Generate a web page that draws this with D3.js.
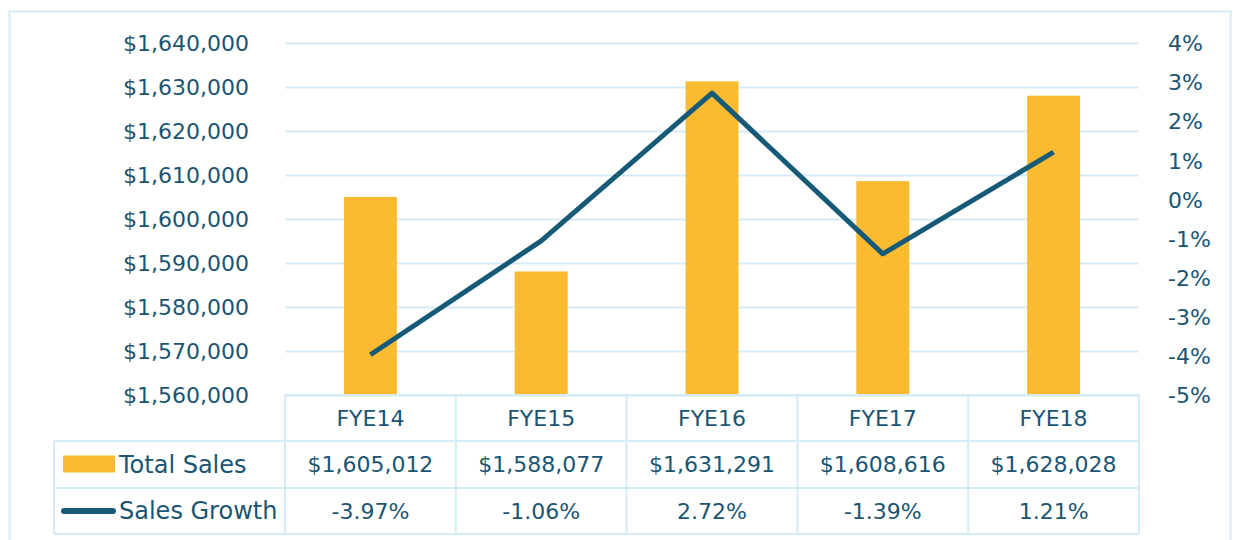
<!DOCTYPE html>
<html>
<head>
<meta charset="utf-8">
<script src="https://cdnjs.cloudflare.com/ajax/libs/d3/7.8.5/d3.min.js"></script>
<style>
  body { margin: 0; background: #fff; }
  text { font-family: "DejaVu Sans", sans-serif; fill: #1a5572; }
</style>
</head>
<body>
<svg id="chart" width="1233" height="540"></svg>
<script>
// data
const years = ["FYE14", "FYE15", "FYE16", "FYE17", "FYE18"];
const totalSales = [1605012, 1588077, 1631291, 1608616, 1628028];
const salesGrowth = [-3.97, -1.06, 2.72, -1.39, 1.21];
const leftTicks = [1560000, 1570000, 1580000, 1590000, 1600000, 1610000, 1620000, 1630000, 1640000];
const rightTicks = [-5, -4, -3, -2, -1, 0, 1, 2, 3, 4];

const svg = d3.select("#chart");
const gridColor = "#d3ecf7";
const barColor = "#fbbb31";
const lineColor = "#175a78";

// plot area
const plotL = 285, plotR = 1139, plotT = 43, plotB = 395;
const rowH = [46, 47, 46]; // header, sales, growth

// outer frame
svg.append("rect")
  .attr("x", 9.5).attr("y", 11.5)
  .attr("width", 1221).attr("height", 560)
  .attr("fill", "none")
  .attr("stroke", gridColor)
  .attr("stroke-width", 2);

const x = d3.scaleBand().domain(years).range([plotL, plotR]);
const y = d3.scaleLinear().domain([1560000, 1640000]).range([plotB, plotT]);
const y2 = d3.scaleLinear().domain([-5, 4]).range([plotB, plotT]);

/* left axis with gridlines */
const yAxis = d3.axisLeft(y)
  .tickValues(leftTicks)
  .tickFormat(d => "$" + d3.format(",")(d))
  .tickSize(-(plotR - plotL))
  .tickPadding(36);

const yAxisG = svg.append("g")
  .attr("transform", `translate(${plotL},0)`)
  .call(yAxis);
yAxisG.select(".domain").remove();
yAxisG.selectAll(".tick line").attr("stroke", gridColor).attr("stroke-width", 2);
yAxisG.selectAll(".tick text")
  .attr("font-size", 22)
  .attr("font-family", "DejaVu Sans")
  .attr("fill", "#1a5572")
  .attr("dy", "0.35em");

/* right axis */
const y2Axis = d3.axisRight(y2)
  .tickValues(rightTicks)
  .tickFormat(d => d + "%")
  .tickSize(0)
  .tickPadding(29);
const y2AxisG = svg.append("g")
  .attr("transform", `translate(${plotR},0)`)
  .call(y2Axis);
y2AxisG.select(".domain").remove();
y2AxisG.selectAll(".tick text")
  .attr("font-size", 22)
  .attr("font-family", "DejaVu Sans")
  .attr("fill", "#1a5572")
  .attr("dy", "0.35em");

// bars
const barW = x.bandwidth() * 0.31;
svg.append("g").selectAll("rect")
  .data(years)
  .enter().append("rect")
    .attr("x", d => x(d) + x.bandwidth() / 2 - barW / 2)
    .attr("y", (d, i) => y(totalSales[i]))
    .attr("width", barW)
    .attr("height", (d, i) => plotB - y(totalSales[i]))
    .attr("fill", barColor);

// growth line
const line = d3.line()
  .x(d => x(d[0]) + x.bandwidth() / 2)
  .y(d => y2(d[1]));
svg.append("path")
  .datum(years.map((d, i) => [d, salesGrowth[i]]))
  .attr("d", line)
  .attr("fill", "none")
  .attr("stroke", lineColor)
  .attr("stroke-width", 5)
  .attr("stroke-linejoin", "round");

/* data table underneath */
const tableLeft = 54;
const r0 = plotB, r1 = r0 + rowH[0], r2 = r1 + rowH[1], r3 = r2 + rowH[2];
const t = svg.append("g")
  .attr("fill", "none")
  .attr("stroke", gridColor)
  .attr("stroke-width", 2);

// horizontal borders
t.append("line").attr("x1", plotL).attr("x2", plotR).attr("y1", r0).attr("y2", r0);
[r1, r2, r3].forEach(yy => {
  t.append("line").attr("x1", tableLeft).attr("x2", plotR).attr("y1", yy).attr("y2", yy);
});
// vertical borders
t.append("line").attr("x1", tableLeft).attr("x2", tableLeft).attr("y1", r1).attr("y2", r3);
years.forEach(d => {
  t.append("line").attr("x1", x(d)).attr("x2", x(d)).attr("y1", r0).attr("y2", r3);
});
t.append("line").attr("x1", plotR).attr("x2", plotR).attr("y1", r0).attr("y2", r3);

const cx = d => x(d) + x.bandwidth() / 2;
const cells = svg.append("g").attr("font-size", 22).attr("text-anchor", "middle");
cells.selectAll(".hdr").data(years).enter().append("text")
  .attr("x", cx).attr("y", (r0 + r1) / 2).attr("dy", "0.35em").text(d => d);
cells.selectAll(".sales").data(years).enter().append("text")
  .attr("x", cx).attr("y", (r1 + r2) / 2).attr("dy", "0.35em")
  .text((d, i) => "$" + d3.format(",")(totalSales[i]));
cells.selectAll(".growth").data(years).enter().append("text")
  .attr("x", cx).attr("y", (r2 + r3) / 2).attr("dy", "0.35em")
  .text((d, i) => salesGrowth[i].toFixed(2) + "%");

// legend keys
svg.append("rect")
  .attr("x", 63).attr("y", (r1 + r2) / 2 - 9)
  .attr("width", 52).attr("height", 17)
  .attr("fill", barColor);
svg.append("line")
  .attr("x1", 64).attr("x2", 113)
  .attr("y1", (r2 + r3) / 2).attr("y2", (r2 + r3) / 2)
  .attr("stroke", lineColor).attr("stroke-width", 6)
  .attr("stroke-linecap", "round");
svg.append("text").attr("x", 119).attr("y", (r1 + r2) / 2).attr("dy", "0.35em")
  .attr("font-size", 24).text("Total Sales");
svg.append("text").attr("x", 119).attr("y", (r2 + r3) / 2).attr("dy", "0.35em")
  .attr("font-size", 24).text("Sales Growth");
</script>
</body>
</html>
